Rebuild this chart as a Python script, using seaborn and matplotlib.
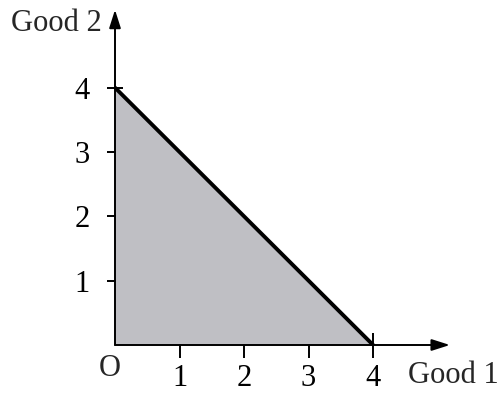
import matplotlib
matplotlib.use("Agg")
import matplotlib.pyplot as plt
import seaborn as sns
import pandas as pd

# Budget line: bundles of Good 1 and Good 2 that exhaust the budget
good1 = [0, 4]
good2 = [4, 0]
tick_values = [1, 2, 3, 4]
tick_labels = ["1", "2", "3", "4"]

sns.set_style("white")
plt.rcParams["font.family"] = ["Liberation Serif", "DejaVu Serif"]

df = pd.DataFrame({"Good 1": good1, "Good 2": good2})

fig = plt.figure(figsize=(5.02, 3.94), dpi=100)
ax = fig.add_axes([115 / 502, 49 / 394, 342 / 502, 341 / 394])

# Feasible set shaded under the budget line
ax.fill_between(df["Good 1"], df["Good 2"], 0, color="#bfbfc4", linewidth=0, zorder=1)
sns.lineplot(data=df, x="Good 1", y="Good 2", ax=ax, color="black",
             linewidth=2.8, zorder=3, solid_capstyle="round")

ax.set_xlim(0, 5.3)
ax.set_ylim(0, 5.3)
for s in ax.spines.values():
    s.set_visible(False)

# Axes drawn as arrows from the origin
arrow = dict(arrowstyle="-|>,head_length=1.1,head_width=0.35", color="black",
             lw=1.4, shrinkA=0, shrinkB=0)
ax.annotate("", xy=(5.19, 0), xytext=(0, 0), arrowprops=arrow, zorder=4,
            annotation_clip=False)
ax.annotate("", xy=(0, 5.21), xytext=(0, 0), arrowprops=arrow, zorder=4,
            annotation_clip=False)

ax.set_xticks(tick_values)
ax.set_xticklabels(tick_labels)
ax.set_yticks(tick_values)
ax.set_yticklabels(tick_labels)
ax.tick_params(axis="x", direction="inout", length=18, width=1.4, pad=5,
               labelsize=22, colors="black", bottom=True)
ax.tick_params(axis="y", direction="inout", length=12, width=1.4, pad=12,
               labelsize=22, colors="black", left=True)
ax.set_xlabel("")
ax.set_ylabel("")

ax.text(-0.08, -0.36, "O", fontsize=22, ha="center", va="center")
ax.text(4.54, -0.47, "Good 1", fontsize=22, ha="left", va="center")
ax.text(-0.2, 5.0, "Good 2", fontsize=22, ha="right", va="center")

fig.savefig("out.png", dpi=100, facecolor="white")
